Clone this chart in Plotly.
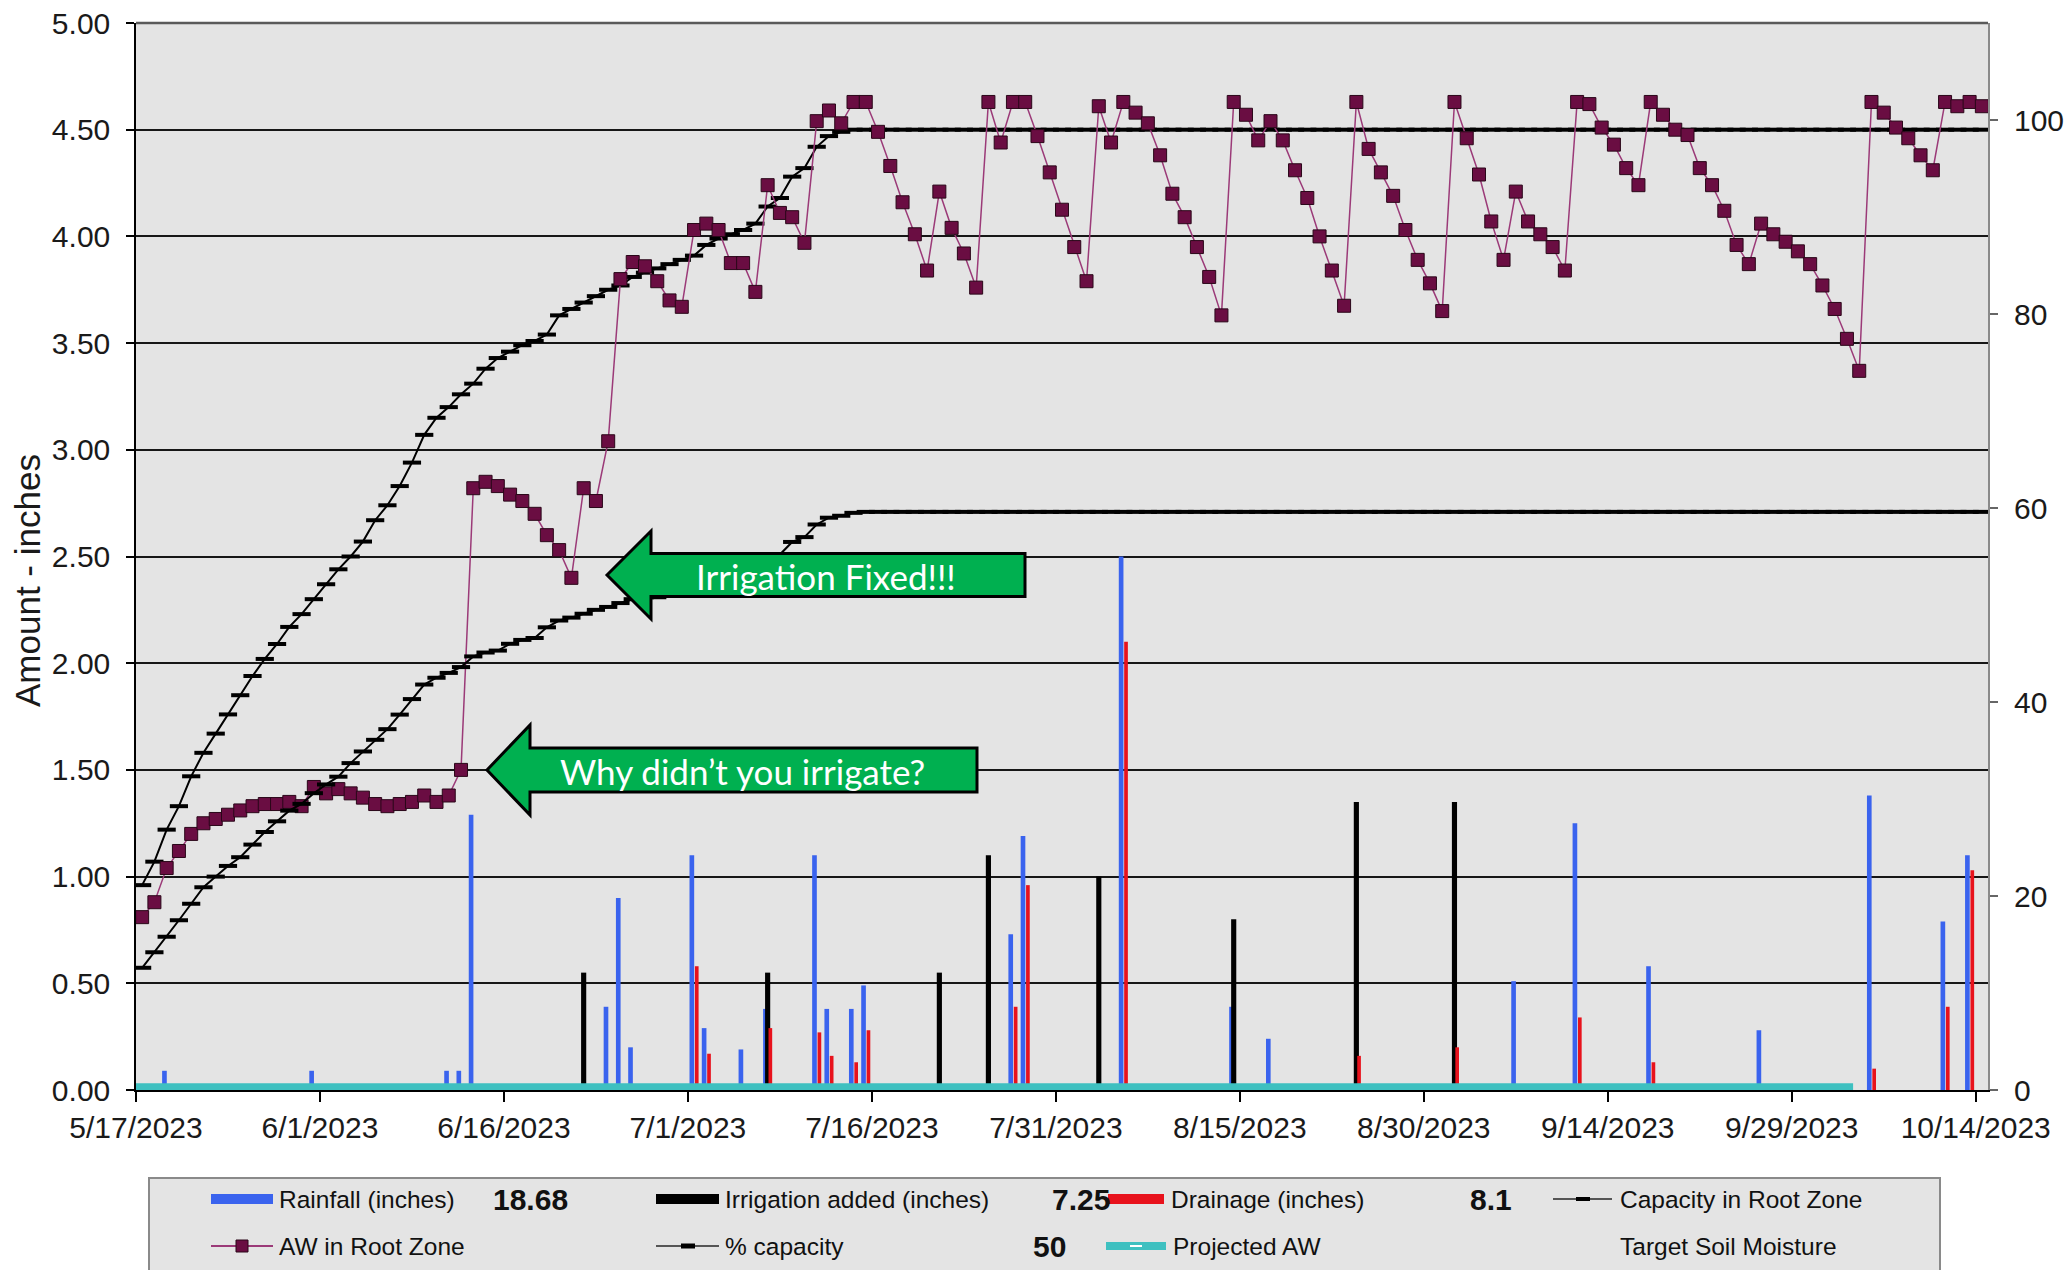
import pandas as pd
import plotly.graph_objects as go

# ---------------------------------------------------------------- data
season_start = "2023-05-17"
season_end = "2023-10-14"

# available water in the root zone (inches), one value per day 5/17 .. 10/14
aw_root_zone = [
    0.81, 0.88, 1.04, 1.12, 1.20, 1.25, 1.27, 1.29, 1.31, 1.33,
    1.34, 1.34, 1.35, 1.33, 1.42, 1.39, 1.41, 1.39, 1.37, 1.34,
    1.33, 1.34, 1.35, 1.38, 1.35, 1.38, 1.50, 2.82, 2.85, 2.83,
    2.79, 2.76, 2.70, 2.60, 2.53, 2.40, 2.82, 2.76, 3.04, 3.80,
    3.88, 3.86, 3.79, 3.70, 3.67, 4.03, 4.06, 4.03, 3.875, 3.875,
    3.74, 4.24, 4.11, 4.09, 3.97, 4.54, 4.59, 4.53, 4.63, 4.63,
    4.49, 4.33, 4.16, 4.01, 3.84, 4.21, 4.04, 3.92, 3.76, 4.63,
    4.44, 4.63, 4.63, 4.47, 4.30, 4.125, 3.95, 3.79, 4.61, 4.44,
    4.63, 4.58, 4.53, 4.38, 4.20, 4.09, 3.95, 3.81, 3.63, 4.63,
    4.57, 4.45, 4.54, 4.45, 4.31, 4.18, 4.00, 3.84, 3.675, 4.63,
    4.41, 4.30, 4.19, 4.03, 3.89, 3.78, 3.65, 4.63, 4.46, 4.29,
    4.07, 3.89, 4.21, 4.07, 4.01, 3.95, 3.84, 4.63, 4.62, 4.51,
    4.43, 4.32, 4.24, 4.63, 4.57, 4.50, 4.475, 4.32, 4.24, 4.12,
    3.96, 3.87, 4.06, 4.01, 3.975, 3.93, 3.87, 3.77, 3.66, 3.52,
    3.37, 4.63, 4.58, 4.51, 4.46, 4.38, 4.31, 4.63, 4.61, 4.63,
    4.61,
]

# water holding capacity of the growing root zone (inches)
capacity_root_zone = [
    0.96, 1.07, 1.22, 1.33, 1.47, 1.58, 1.67, 1.76, 1.85, 1.94,
    2.02, 2.09, 2.17, 2.23, 2.30, 2.37, 2.44, 2.50, 2.57, 2.67,
    2.74, 2.83, 2.94, 3.07, 3.15, 3.20, 3.26, 3.31, 3.38, 3.43,
    3.46, 3.49, 3.51, 3.54, 3.63, 3.66, 3.69, 3.72, 3.75, 3.77,
    3.81, 3.83, 3.85, 3.87, 3.89, 3.91, 3.96, 3.99, 4.01, 4.03,
    4.06, 4.14, 4.18, 4.28, 4.32, 4.42, 4.47, 4.49, 4.50,
] + [4.50] * 92

# % capacity line (right axis)
pct_capacity = [
    12.6, 14.2, 15.8, 17.5, 19.2, 20.9, 22.0, 23.1, 24.0, 25.3,
    26.6, 27.7, 28.8, 29.5, 30.6, 31.5, 32.3, 33.7, 34.9, 36.1,
    37.2, 38.7, 40.3, 41.8, 42.5, 43.0, 43.6, 44.7, 45.1, 45.3,
    46.0, 46.4, 46.6, 47.7, 48.4, 48.7, 49.1, 49.5, 49.8, 50.2,
    50.6, 50.8, 50.8, 51.0, 51.3, 51.7, 52.4, 52.6, 53.0, 53.2,
    53.7, 54.6, 55.2, 56.5, 57.0, 58.3, 59.0, 59.2, 59.5,
] + [59.6] * 92

# projected available water, 5/17 .. 10/4
projected_aw = [0.015] * 141

rain_dates = [
    "2023-05-19", "2023-05-31", "2023-06-11", "2023-06-12", "2023-06-13",
    "2023-06-24", "2023-06-25", "2023-06-26", "2023-07-01", "2023-07-02",
    "2023-07-05", "2023-07-07", "2023-07-11", "2023-07-12", "2023-07-14",
    "2023-07-15", "2023-07-27", "2023-07-28", "2023-08-05", "2023-08-14",
    "2023-08-17", "2023-09-06", "2023-09-11", "2023-09-17", "2023-09-26",
    "2023-10-05", "2023-10-11", "2023-10-13",
]
rain_inches = [
    0.09, 0.09, 0.09, 0.09, 1.29, 0.39, 0.90, 0.20, 1.10, 0.29,
    0.19, 0.38, 1.10, 0.38, 0.38, 0.49, 0.73, 1.19, 2.50, 0.39,
    0.24, 0.51, 1.25, 0.58, 0.28, 1.38, 0.79, 1.10,
]

irrigation_dates = [
    "2023-06-22", "2023-07-07", "2023-07-21", "2023-07-25",
    "2023-08-03", "2023-08-14", "2023-08-24", "2023-09-01",
]
irrigation_inches = [0.55, 0.55, 0.55, 1.10, 1.00, 0.80, 1.35, 1.35]

drainage_dates = [
    "2023-07-01", "2023-07-02", "2023-07-07", "2023-07-11", "2023-07-12",
    "2023-07-14", "2023-07-15", "2023-07-27", "2023-07-28", "2023-08-05",
    "2023-08-24", "2023-09-01", "2023-09-11", "2023-09-17", "2023-10-05",
    "2023-10-11", "2023-10-13",
]
drainage_inches = [
    0.58, 0.17, 0.29, 0.27, 0.16, 0.13, 0.28, 0.39, 0.96, 2.10,
    0.16, 0.20, 0.34, 0.13, 0.10, 0.39, 1.03,
]

total_rain = "18.68"
total_irrigation = "7.25"
total_drainage = "8.1"
pct_target = "50"

y_left_ticks = [0.0, 0.5, 1.0, 1.5, 2.0, 2.5, 3.0, 3.5, 4.0, 4.5, 5.0]
y_right_ticks = [0, 20, 40, 60, 80, 100]

# ---------------------------------------------------------------- style
W, H = 2069, 1270
PL, PR, PT, PB = 136, 1988, 23, 1090          # plot area in pixels
DAY_MS = 86400000

AXIS_FONT = "Liberation Sans, Arial, sans-serif"
LEGEND_FONT = "Liberation Sans, Arial, sans-serif"
CALLOUT_FONT = "Lato, Open Sans, sans-serif"

BLUE = "#3a63ee"
RED = "#e8121c"
CYAN = "#3ec0c0"
AW_LINE = "#9b3a78"
AW_FILL = "#6a0d42"
GREEN = "#00b050"
BG = "#e4e4e4"


def px(x):
    return (x - PL) / (PR - PL)


def py(y):
    return (PB - y) / (PB - PT)


days = pd.date_range(season_start, season_end, freq="D")
day_mid = days + pd.Timedelta(hours=12)
tick_dates = pd.date_range(season_start, periods=11, freq="15D")
tick_text = [f"{d.month}/{d.day}/{d.year}" for d in tick_dates]

fig = go.Figure()

fig.add_trace(go.Bar(
    x=pd.to_datetime(rain_dates), y=rain_inches, name="Rainfall (inches)",
    width=0.38 * DAY_MS, offset=0.13 * DAY_MS,
    marker=dict(color=BLUE, line=dict(width=0)),
))
fig.add_trace(go.Bar(
    x=pd.to_datetime(irrigation_dates), y=irrigation_inches,
    name="Irrigation added (inches)",
    width=0.42 * DAY_MS, offset=0.29 * DAY_MS,
    marker=dict(color="black", line=dict(width=0)),
))
fig.add_trace(go.Bar(
    x=pd.to_datetime(drainage_dates), y=drainage_inches, name="Drainage (inches)",
    width=0.30 * DAY_MS, offset=0.57 * DAY_MS,
    marker=dict(color=RED, line=dict(width=0)),
))
fig.add_trace(go.Scatter(
    x=days[:len(projected_aw)], y=projected_aw, name="Projected AW",
    mode="lines", line=dict(color=CYAN, width=7),
))
fig.add_trace(go.Scatter(
    x=day_mid, y=capacity_root_zone, name="Capacity in Root Zone",
    mode="lines+markers", line=dict(color="black", width=2),
    marker=dict(symbol="line-ew", size=13, line=dict(color="black", width=4)),
))
fig.add_trace(go.Scatter(
    x=day_mid, y=aw_root_zone, name="AW in Root Zone",
    mode="lines+markers", line=dict(color=AW_LINE, width=1.5),
    marker=dict(symbol="square", size=13, color=AW_FILL,
                line=dict(color="#2a0719", width=1)),
))
fig.add_trace(go.Scatter(
    x=day_mid, y=pct_capacity, name="% capacity", yaxis="y2",
    mode="lines+markers", line=dict(color="black", width=2),
    marker=dict(symbol="line-ew", size=13, line=dict(color="black", width=4)),
))

shapes = []
annotations = []

# frame of the plotting area
shapes.append(dict(type="line", xref="paper", yref="paper", x0=0, x1=1, y0=1, y1=1,
                   line=dict(color="#5a5a5a", width=2.5)))


# call-out arrows
def arrow(tip_x, tip_y, base_x, head_half, body_half, right_x):
    d = (f"M {px(tip_x)},{py(tip_y)} "
         f"L {px(base_x)},{py(tip_y - head_half)} "
         f"L {px(base_x)},{py(tip_y - body_half)} "
         f"L {px(right_x)},{py(tip_y - body_half)} "
         f"L {px(right_x)},{py(tip_y + body_half)} "
         f"L {px(base_x)},{py(tip_y + body_half)} "
         f"L {px(base_x)},{py(tip_y + head_half)} Z")
    return dict(type="path", xref="paper", yref="paper", path=d,
                fillcolor=GREEN, line=dict(color="black", width=3), layer="above")


def text_at(x, y, text, font, anchor="center", angle=0):
    annotations.append(dict(x=px(x), y=py(y), xref="paper", yref="paper",
                            text=text, showarrow=False, textangle=angle,
                            xanchor=anchor, yanchor="middle", font=font))


shapes.append(arrow(607, 575, 651, 44, 21.5, 1025))
shapes.append(arrow(487, 770, 530, 45, 22, 977))
text_at(826, 576, "Irrigation Fixed!!!",
        dict(family=CALLOUT_FONT, size=35, color="white"))
text_at(742, 771, "Why didn\u2019t you irrigate?",
        dict(family=CALLOUT_FONT, size=35, color="white"))

# axis title
text_at(27, 581, "Amount - inches",
        dict(family=AXIS_FONT, size=35, color="#1a1a1a"), angle=-90)

# ---------------------------------------------------------------- legend panel
shapes.append(dict(type="rect", xref="paper", yref="paper",
                   x0=px(149), x1=px(1940), y0=py(1178), y1=py(1290),
                   fillcolor=BG, line=dict(color="#8a8a8a", width=2), layer="below"))
ROW1, ROW2 = 1199, 1246


def swatch_rect(x0, x1, y, h, color):
    shapes.append(dict(type="rect", xref="paper", yref="paper",
                       x0=px(x0), x1=px(x1), y0=py(y + h / 2), y1=py(y - h / 2),
                       fillcolor=color, line=dict(width=0)))


def swatch_line(x0, x1, y, color, width):
    shapes.append(dict(type="line", xref="paper", yref="paper",
                       x0=px(x0), x1=px(x1), y0=py(y), y1=py(y),
                       line=dict(color=color, width=width)))


def legend_text(x, y, text, bold=False, anchor="left", size=24.5):
    text_at(x, y, f"<b>{text}</b>" if bold else text,
            dict(family=LEGEND_FONT, size=size, color="#111111"), anchor=anchor)


swatch_rect(211, 273, ROW1, 10, BLUE)
legend_text(277, ROW1, "Rainfall (inches)")
legend_text(530, ROW1, total_rain, bold=True, anchor="center", size=30)
swatch_rect(656, 719, ROW1, 10, "black")
legend_text(723, ROW1, "Irrigation added (inches)")
legend_text(1081, ROW1, total_irrigation, bold=True, anchor="center", size=30)
swatch_rect(1108, 1164, ROW1, 10, RED)
legend_text(1169, ROW1, "Drainage (inches)")
legend_text(1491, ROW1, total_drainage, bold=True, anchor="center", size=30)
swatch_line(1553, 1612, ROW1, "#555555", 2)
swatch_line(1576, 1590, ROW1, "black", 4)
legend_text(1618, ROW1, "Capacity in Root Zone")

swatch_line(211, 273, ROW2, AW_LINE, 2)
shapes.append(dict(type="rect", xref="paper", yref="paper",
                   x0=px(236), x1=px(248), y0=py(ROW2 + 6), y1=py(ROW2 - 6),
                   fillcolor=AW_FILL, line=dict(color="#2a0719", width=1)))
legend_text(277, ROW2, "AW in Root Zone")
swatch_line(656, 719, ROW2, "#555555", 2)
swatch_line(681, 695, ROW2, "black", 5)
legend_text(723, ROW2, "% capacity")
legend_text(1049, ROW2, pct_target, bold=True, anchor="center", size=30)
swatch_line(1106, 1166, ROW2, CYAN, 8)
swatch_line(1130, 1142, ROW2, "white", 2)
legend_text(1171, ROW2, "Projected AW")
legend_text(1618, ROW2, "Target Soil Moisture")

fig.update_layout(
    width=W, height=H, autosize=False,
    margin=dict(l=PL, r=W - PR, t=PT, b=H - PB, pad=0, autoexpand=False),
    paper_bgcolor="white", plot_bgcolor=BG,
    showlegend=False, barmode="overlay",
    shapes=shapes, annotations=annotations,
    xaxis=dict(
        type="date", range=["2023-05-17", "2023-10-15"],
        tickvals=tick_dates, ticktext=tick_text, automargin=False,
        ticks="outside", ticklen=10, tickwidth=1.5, tickcolor="black",
        showline=True, linecolor="black", linewidth=1.5,
        showgrid=False, zeroline=False,
        tickfont=dict(family=AXIS_FONT, size=30, color="#1a1a1a"),
    ),
    yaxis=dict(
        range=[0, 5], tickvals=y_left_ticks, automargin=False,
        ticktext=[f"{v:.2f}" for v in y_left_ticks],
        ticks="outside", ticklen=8, tickwidth=1.5, tickcolor="black",
        ticklabelstandoff=10,
        showline=True, linecolor="black", linewidth=1.5,
        showgrid=True, gridcolor="#161616", gridwidth=1.6, zeroline=False,
        tickfont=dict(family=AXIS_FONT, size=30, color="#1a1a1a"),
    ),
    yaxis2=dict(
        overlaying="y", side="right", range=[0, 110], tickvals=y_right_ticks,
        automargin=False,
        ticks="outside", ticklen=8, tickwidth=1.5, tickcolor="#666666",
        ticklabelstandoff=10,
        showline=True, linecolor="#8a8a8a", linewidth=2,
        showgrid=False, zeroline=False,
        tickfont=dict(family=AXIS_FONT, size=30, color="#1a1a1a"),
    ),
)

fig.write_html("out.html")
